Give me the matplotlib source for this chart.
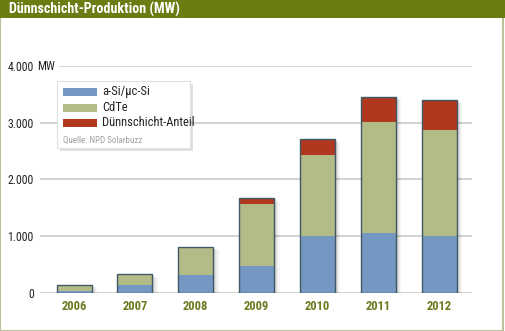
import numpy as np
import matplotlib.pyplot as plt
from matplotlib.patches import Rectangle

years = ["2006", "2007", "2008", "2009", "2010", "2011", "2012"]
asi = [35, 136, 307, 466, 1000, 1048, 1000]
cdte = [101, 188, 504, 1099, 1434, 1962, 1864]
anteil = [0, 0, 0, 100, 271, 447, 535]
yticks = [0, 1000, 2000, 3000, 4000]
ytick_labels = ["0", "1.000", "2.000", "3.000", "4.000"]

c_blue = "#7598c2"
c_green = "#b3bb86"
c_red = "#b0381f"
c_edge = "#3f5a66"
olive = "#6b7c12"
fam = ["Roboto Condensed", "Open Sans Condensed", "Liberation Sans", "DejaVu Sans"]

W, H = 506, 331
fig = plt.figure(figsize=(W / 100, H / 100), dpi=100)
fig.patch.set_facecolor("white")

# frame and title bar
fig.add_artist(Rectangle((0.5 / W, 0.5 / H), (W - 3) / W, (H - 4) / H, transform=fig.transFigure,
                         fill=False, edgecolor="#b9c298", lw=1.5))
fig.add_artist(Rectangle((0, 1 - 18 / H), 1, 18 / H, transform=fig.transFigure,
                         facecolor=olive, edgecolor="none"))
fig.text(9 / W, 1 - 9.5 / H, "Dünnschicht-Produktion (MW)", color="white", fontsize=10.2,
         fontweight="bold", va="center", ha="left", family=fam)

ax = fig.add_axes([40 / W, (H - 292.7) / H, 432 / W, (292.7 - 66) / H])
x = np.arange(len(years))
ax.set_xlim(-0.56, 6.54)
ax.set_ylim(0, 4000)
for s in ax.spines.values():
    s.set_visible(False)

# gridlines
for v in yticks:
    xmin = 20 / 432 if v == 4000 else 0
    ax.axhline(v, xmin=xmin, xmax=1, color="#d4d4d4", lw=1.5, zorder=0)

w = 0.575
asi_a = np.array(asi)
cdte_a = np.array(cdte)
tot = asi_a + cdte_a + np.array(anteil)

# soft shadows
for k, a in enumerate([0.06, 0.05, 0.04, 0.03]):
    dx = 0.03 + k * 0.02
    ax.bar(x + dx, tot, width=w, bottom=-20 - k * 12, color="black", alpha=a, zorder=1,
           linewidth=0)

ax.bar(x, asi, width=w, color=c_blue, zorder=2, linewidth=0)
ax.bar(x, cdte, width=w, bottom=asi, color=c_green, zorder=2, linewidth=0)
ax.bar(x, anteil, width=w, bottom=asi_a + cdte_a, color=c_red, zorder=2, linewidth=0)
ax.bar(x, tot, width=w, fill=False, edgecolor=c_edge, linewidth=1.0, zorder=3)

ax.set_xticks(x)
ax.set_xticklabels(years, color="#6b7a1e", fontsize=9, fontweight="bold", family=fam)
ax.set_yticks(yticks)
ax.set_yticklabels(ytick_labels, fontsize=8.5, color="#222222", family=fam)
ax.tick_params(length=0, axis="y", pad=4.5)
ax.tick_params(length=0, axis="x", pad=5)
ax.text(-3 / 432, 4000, "MW", fontsize=8.5, color="#222222", family=fam,
        ha="left", va="center", transform=ax.get_yaxis_transform())

# legend box
lx0, ly0, lw_, lh = 57, 81, 133, 67
fig.add_artist(Rectangle(((lx0 + 3) / W, (H - ly0 - lh - 3) / H), lw_ / W, lh / H,
                         transform=fig.transFigure, facecolor="#000000", alpha=0.12,
                         edgecolor="none"))
fig.add_artist(Rectangle((lx0 / W, (H - ly0 - lh) / H), lw_ / W, lh / H,
                         transform=fig.transFigure, facecolor="white", edgecolor="#e0e0e0",
                         lw=0.8))
labels = ["a-Si/µc-Si", "CdTe", "Dünnschicht-Anteil"]
colors = [c_blue, c_green, c_red]
for i, (lab, col) in enumerate(zip(labels, colors)):
    yc = 92 + i * 15.5
    fig.add_artist(Rectangle((63 / W, (H - yc - 4) / H), 34 / W, 8 / H,
                             transform=fig.transFigure, facecolor=col, edgecolor="none"))
    fig.text(102 / W, (H - yc) / H, lab, fontsize=9, color="#222222", va="center",
             ha="left", family=fam)
fig.text(63 / W, (H - 140) / H, "Quelle: NPD Solarbuzz", fontsize=6.5, color="#a0a0a0",
         va="center", ha="left", family=fam)

fig.savefig("out.png", dpi=100)
